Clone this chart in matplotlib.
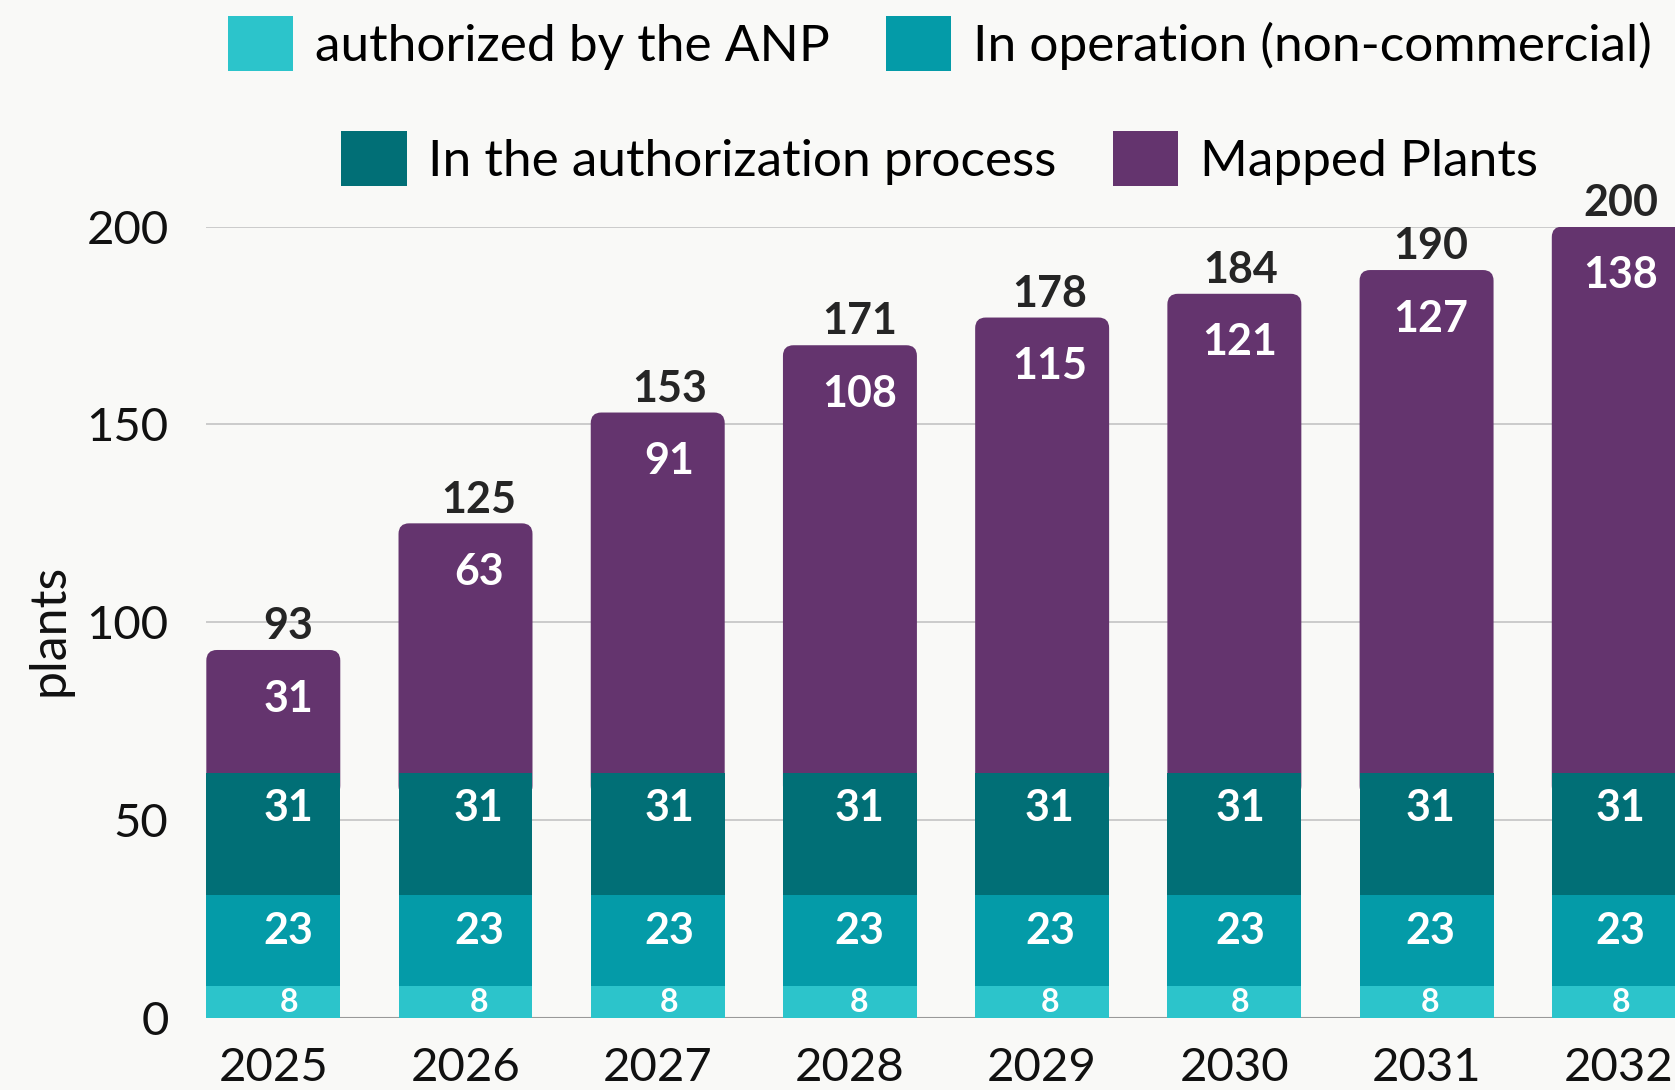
import matplotlib
matplotlib.use("Agg")
import matplotlib.pyplot as plt
from matplotlib.patches import FancyBboxPatch, Patch
import numpy as np

years = ["2025", "2026", "2027", "2028", "2029", "2030", "2031", "2032"]
authorized = [8, 8, 8, 8, 8, 8, 8, 8]
operation = [23, 23, 23, 23, 23, 23, 23, 23]
in_process = [31, 31, 31, 31, 31, 31, 31, 31]
mapped = [31, 63, 91, 108, 115, 121, 127, 138]
total_labels = [93, 125, 153, 171, 178, 184, 190, 200]
series_names = ["authorized by the ANP", "In operation (non-commercial)",
                "In the authorization process", "Mapped Plants"]
colors = ["#2cc4cb", "#049ba8", "#016f76", "#64346e"]

plt.rcParams["font.family"] = ["Lato", "DejaVu Sans"]
bg = "#f9f9f7"

fig = plt.figure(figsize=(16.75, 10.9), dpi=100, facecolor=bg)
ax = fig.add_axes([0.123, 0.066, 0.8836, 0.7262], facecolor=bg)

x = np.arange(len(years))
width = 0.697
stack = [authorized, operation, in_process, mapped]
bottom = np.zeros(len(years))
bar_sets = []
for vals, col in zip(stack, colors):
    bars = ax.bar(x, vals, width, bottom=bottom, color=col, zorder=3, linewidth=0)
    bar_sets.append((bars, np.array(vals), bottom.copy()))
    bottom = bottom + np.array(vals)
tops = bottom

# round the top corners of the last segment
mut_aspect = (1 / 3.958) / (1 / 192.3)
for rect in bar_sets[-1][0]:
    rect.set_visible(False)
    rx, ry, rw, rh = rect.get_x(), rect.get_y(), rect.get_width(), rect.get_height()
    fb = FancyBboxPatch((rx, ry - 6), rw, rh + 6,
                        boxstyle="round,pad=0,rounding_size=0.055",
                        mutation_aspect=mut_aspect, facecolor=colors[3],
                        linewidth=0, zorder=2.5)
    ax.add_patch(fb)

# value labels sit slightly right of the bar centres in the original
lx = x * 0.99 + 0.08

for i, (bars, vals, bot) in enumerate(bar_sets):
    for xi, v, b in zip(lx, vals, bot):
        if i == 0:
            y, fs = b + v / 2, 23
        elif i == 3:
            y, fs = b + v - 12.3, 31
        else:
            y, fs = b + v - 8.9, 31
        ax.text(xi, y, f"{v}", ha="center", va="center", color="white",
                fontsize=fs, fontweight="bold", zorder=5)

for xi, t, lab in zip(lx, tops, total_labels):
    ax.text(xi, t + 6, f"{lab}", ha="center", va="center", color="#252525",
            fontsize=31, fontweight="bold", zorder=5, clip_on=False)

ax.set_xlim(-0.35, 7.35)
ax.set_ylim(0, 200)
ax.set_yticks([0, 50, 100, 150, 200])
ax.set_xticks(x)
ax.set_xticklabels(years)
ax.tick_params(axis="both", length=0, labelsize=34, colors="#111111")
ax.tick_params(axis="y", pad=27)
ax.tick_params(axis="x", pad=21)
ax.grid(axis="y", color="#c8c8c8", linewidth=1.3, zorder=1)
ax.axhline(0, color="#999999", linewidth=1.5, zorder=2)
for s in ax.spines.values():
    s.set_visible(False)

fig.text(50 / 1675, 1 - 630 / 1090, "plants", rotation=90, ha="center",
         va="center", fontsize=36, color="#111111")

handles = [Patch(facecolor=c, edgecolor="none") for c in colors]
leg_kw = dict(ncol=2, frameon=False, fontsize=37, handlelength=1.27,
              handleheight=1.27, handletextpad=0.42, columnspacing=1.1,
              borderaxespad=0, borderpad=0)
leg1 = fig.legend(handles[:2], series_names[:2], loc="center",
                  bbox_to_anchor=(0.561, 0.96), **leg_kw)
leg2 = fig.legend(handles[2:], series_names[2:], loc="center",
                  bbox_to_anchor=(0.561, 0.8545), **leg_kw)

fig.savefig("out.png", dpi=100, facecolor=bg)
